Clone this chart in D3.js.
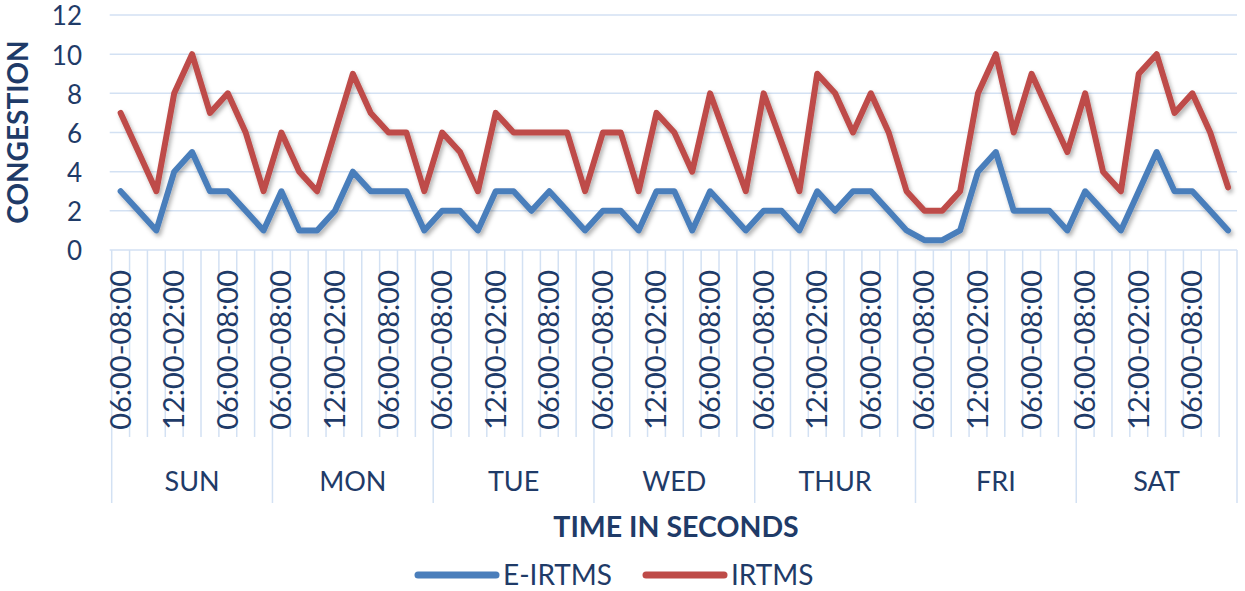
<!DOCTYPE html>
<html>
<head>
<meta charset="utf-8">
<script src="https://cdn.jsdelivr.net/npm/d3@7"></script>
<style>
  html, body { margin: 0; padding: 0; background: #fff; }
  svg { display: block; }
  text { font-family: Lato, "Open Sans", sans-serif; }
</style>
</head>
<body>
<svg id="chart" width="1245" height="591"></svg>
<script>
// ---------- data ----------
const days = ["SUN", "MON", "TUE", "WED", "THUR", "FRI", "SAT"];
const slots = ["06:00-08:00", "08:00-10:00", "10:00-12:00", "12:00-02:00", "02:00-04:00",
               "04:00-06:00", "06:00-08:00", "08:00-10:00", "10:00-12:00"];
const yTicks = [0, 2, 4, 6, 8, 10, 12];
const seriesNames = ["E-IRTMS", "IRTMS"];
const eirtms = [
  3, 2, 1, 4, 5, 3, 3, 2, 1,        // SUN
  3, 1, 1, 2, 4, 3, 3, 3, 1,        // MON
  2, 2, 1, 3, 3, 2, 3, 2, 1,        // TUE
  2, 2, 1, 3, 3, 1, 3, 2, 1,        // WED
  2, 2, 1, 3, 2, 3, 3, 2, 1,        // THUR
  0.5, 0.5, 1, 4, 5, 2, 2, 2, 1,    // FRI
  3, 2, 1, 3, 5, 3, 3, 2, 1         // SAT
];
const irtms = [
  7, 5, 3, 8, 10, 7, 8, 6, 3,       // SUN
  6, 4, 3, 6, 9, 7, 6, 6, 3,        // MON
  6, 5, 3, 7, 6, 6, 6, 6, 3,        // TUE
  6, 6, 3, 7, 6, 4, 8, 5.5, 3,      // WED
  8, 5.5, 3, 9, 8, 6, 8, 6, 3,      // THUR
  2, 2, 3, 8, 10, 6, 9, 7, 5,       // FRI
  8, 4, 3, 9, 10, 7, 8, 6, 3.2      // SAT
];

// ---------- build categories ----------
const cats = [];
days.forEach((d, di) => slots.forEach((s, si) => cats.push({ key: di * slots.length + si, day: d, slot: s, si })));

const svg = d3.select("#chart");
const pLeft = 111.7, pRight = 1237, pTop = 15, pBottom = 250;
const x = d3.scaleBand().domain(cats.map(c => c.key)).range([pLeft, pRight]).paddingInner(0).paddingOuter(0);
const y = d3.scaleLinear().domain([0, 12]).range([pBottom, pTop]);

const textColor = "#1F3B68";
const gridColor = "#D3E1F3";
const colors = ["#4A7EBB", "#BE4B48"];

// shadow filter
const defs = svg.append("defs");
const f = defs.append("filter").attr("id", "shadow").attr("x", "-5%").attr("y", "-20%").attr("width", "110%").attr("height", "140%");
f.append("feDropShadow").attr("dx", 2).attr("dy", 3).attr("stdDeviation", 2)
  .attr("flood-color", "#000").attr("flood-opacity", 0.3);

// horizontal gridlines
svg.append("g").selectAll("line").data(yTicks).join("line")
  .attr("x1", pLeft - 2).attr("x2", pRight)
  .attr("y1", d => y(d)).attr("y2", d => y(d))
  .attr("stroke", gridColor).attr("stroke-width", 1.5);

// y tick labels
svg.append("g").selectAll("text").data(yTicks).join("text")
  .attr("x", 82).attr("y", d => y(d) + 1).attr("dy", "0.36em")
  .attr("text-anchor", "end").attr("font-size", 26).attr("fill", textColor)
  .text(d => d);

// category boundaries (ticks)
const bounds = d3.range(cats.length + 1);
svg.append("g").selectAll("line").data(bounds).join("line")
  .attr("x1", i => i < cats.length ? x(i) : pRight)
  .attr("x2", i => i < cats.length ? x(i) : pRight)
  .attr("y1", pBottom)
  .attr("y2", i => i % slots.length === 0 ? 503 : 437)
  .attr("stroke", gridColor).attr("stroke-width", 1.5);

// slot labels (every third)
svg.append("g").selectAll("text").data(cats.filter(c => c.si % 3 === 0)).join("text")
  .attr("transform", c => `translate(${x(c.key) + x.bandwidth() / 2 + 10},270) rotate(-90)`)
  .attr("text-anchor", "end").attr("font-size", 29).attr("fill", textColor)
  .text(c => c.slot);

// day labels
svg.append("g").selectAll("text").data(days).join("text")
  .attr("x", (d, i) => (x(i * slots.length) + (i < days.length - 1 ? x((i + 1) * slots.length) : pRight)) / 2)
  .attr("y", 491).attr("text-anchor", "middle").attr("font-size", 27).attr("fill", textColor)
  .text(d => d);

// axis titles
svg.append("text").attr("x", 676).attr("y", 537).attr("text-anchor", "middle")
  .attr("font-size", 28.5).attr("font-weight", "bold").attr("fill", textColor)
  .text("TIME IN SECONDS");
svg.append("text").attr("transform", "translate(28,132) rotate(-90)").attr("text-anchor", "middle")
  .attr("font-size", 28).attr("font-weight", "bold").attr("fill", textColor)
  .text("CONGESTION");

// lines
const line = d3.line().x((d, i) => x(i) + x.bandwidth() / 2).y(d => y(d));
[eirtms, irtms].forEach((s, k) => {
  svg.append("path").datum(s).attr("d", line)
    .attr("fill", "none").attr("stroke", colors[k]).attr("stroke-width", 6)
    .attr("stroke-linejoin", "round").attr("stroke-linecap", "round")
    .attr("filter", "url(#shadow)");
});

// legend
const legX = [418, 646];
seriesNames.forEach((n, k) => {
  svg.append("line").attr("x1", legX[k]).attr("x2", legX[k] + 78).attr("y1", 575).attr("y2", 575)
    .attr("stroke", colors[k]).attr("stroke-width", 7).attr("stroke-linecap", "round");
  svg.append("text").attr("x", legX[k] + 85).attr("y", 585).attr("font-size", 28).attr("fill", textColor)
    .text(n);
});
</script>
</body>
</html>
